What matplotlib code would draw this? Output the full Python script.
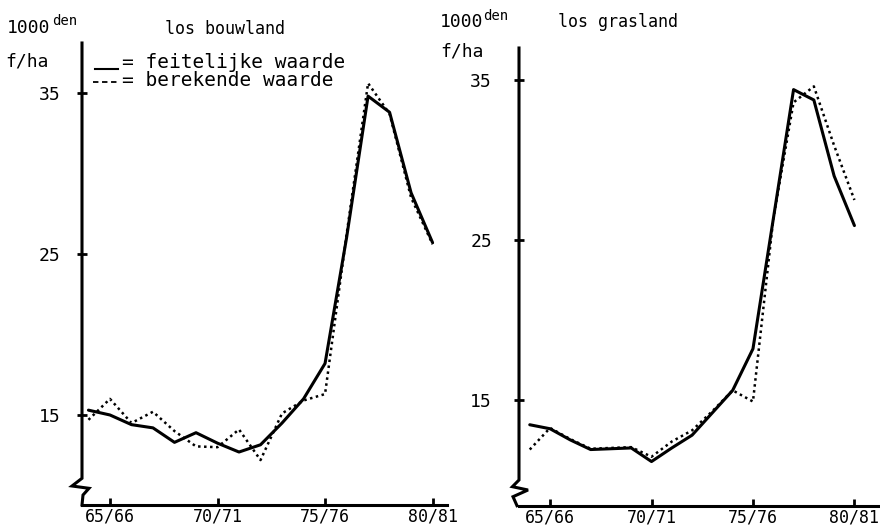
import matplotlib
matplotlib.use("Agg")
import matplotlib.pyplot as plt
from matplotlib.lines import Line2D

# Seasons 64/65 .. 80/81, plotted by their first year
seasons = list(range(64, 81))
season_ticks = [65, 70, 75, 80]
season_labels = ["65/66", "70/71", "75/76", "80/81"]
value_ticks = [15, 25, 35]

# Prices in 1000 guilders per hectare
bouw_feitelijk = [15.3, 15.0, 14.4, 14.2, 13.3, 13.9, 13.25, 12.7, 13.15,
                  14.5, 16.0, 18.2, 26.0, 34.8, 33.8, 28.8, 25.7]
bouw_berekend = [14.7, 16.0, 14.5, 15.2, 14.0, 13.05, 13.0, 14.1, 12.2,
                 15.1, 15.9, 16.3, 26.2, 35.6, 33.7, 28.5, 25.6]

gras_feitelijk = [13.45, 13.2, 12.5, 11.9, 11.95, 12.0, 11.15, 12.0, 12.8,
                  14.2, 15.6, 18.2, 26.3, 34.4, 33.75, 29.0, 25.9]
gras_berekend = [11.9, 13.25, 12.55, 11.95, 12.0, 12.05, 11.45, 12.4, 13.1,
                 14.3, 15.6, 14.9, 26.3, 33.6, 34.6, 30.9, 27.5]

plt.rcParams['font.family'] = ['DejaVu Sans Mono', 'DejaVu Sans']

W, H = 880, 530
fig = plt.figure(figsize=(W / 100, H / 100), dpi=100)
fig.patch.set_facecolor('white')


def axes_px(x0, x1, ytop, ybot):
    return fig.add_axes([x0 / W, 1 - ybot / H, (x1 - x0) / W, (ybot - ytop) / H])


def ftext(x, y, s, **kw):
    kw.setdefault('va', 'center')
    kw.setdefault('ha', 'left')
    fig.text(x / W, 1 - y / H, s, color='black', **kw)


def panel(ax, xlim, ylim, actual, computed, ypad, brk_x, brk_y):
    ax.plot(seasons, actual, color='black', lw=2.2,
            solid_joinstyle='round', solid_capstyle='round')
    ax.plot(seasons, computed, color='black', lw=1.8,
            linestyle=(0, (1, 1.4)), dash_capstyle='butt')
    ax.set_xlim(*xlim)
    ax.set_ylim(*ylim)
    ax.patch.set_alpha(0)
    for s in ('top', 'right', 'left'):
        ax.spines[s].set_visible(False)
    ax.spines['bottom'].set_linewidth(2.2)
    ax.set_xticks(season_ticks, season_labels)
    ax.set_yticks(value_ticks)
    ax.tick_params(axis='x', direction='in', length=5, width=2, pad=2,
                   labelsize=12)
    ax.tick_params(axis='y', direction='inout', length=7, width=2,
                   pad=ypad, labelsize=13)
    # vertical axis with a break mark near the bottom
    ax.add_line(Line2D(brk_x, brk_y, transform=ax.transAxes, color='black',
                       lw=2.2, clip_on=False, solid_joinstyle='miter'))


# los bouwland
axL = axes_px(82, 447, 43, 505)
wL, hL = 365, 462
panel(axL, (63.70, 80.67), (9.41, 38.1), bouw_feitelijk, bouw_berekend, 12,
      [0, 0, -10 / wL, 7 / wL, 1 / wL, 0],
      [1, 26.7 / hL, 19 / hL, 16.7 / hL, 10 / hL, 0])

# los grasland
axR = axes_px(519, 880, 48, 505.7)
wR, hR = 361, 457.7
panel(axR, (63.47, 81.26), (8.39, 37.0), gras_feitelijk, gras_berekend, 16,
      [0, 0, -6.6 / wR, 9 / wR, -6 / wR, -2 / wR],
      [1, 25.7 / hR, 19 / hR, 15.7 / hR, 9 / hR, 0])

# unit labels and titles
ftext(7, 28, "1000", fontsize=13)
ftext(52, 21, "den", fontsize=10)
ftext(5, 62, "f/ha", fontsize=13)
ftext(165, 29, "los bouwland", fontsize=12)

ftext(440, 22, "1000", fontsize=13)
ftext(483, 16, "den", fontsize=10)
ftext(440, 52, "f/ha", fontsize=13)
ftext(558, 22, "los grasland", fontsize=12)

# key
fig.add_artist(Line2D([95 / W, 118 / W], [1 - 69 / H, 1 - 69 / H],
                      transform=fig.transFigure, color='black', lw=1.5))
ftext(122, 62, "= feitelijke waarde", fontsize=14)
fig.add_artist(Line2D([93 / W, 118 / W], [1 - 82 / H, 1 - 82 / H],
                      transform=fig.transFigure, color='black', lw=1.3,
                      linestyle=(0, (3, 2))))
ftext(122, 81, "= berekende waarde", fontsize=14)

fig.savefig("out.png", dpi=100, facecolor='white')
